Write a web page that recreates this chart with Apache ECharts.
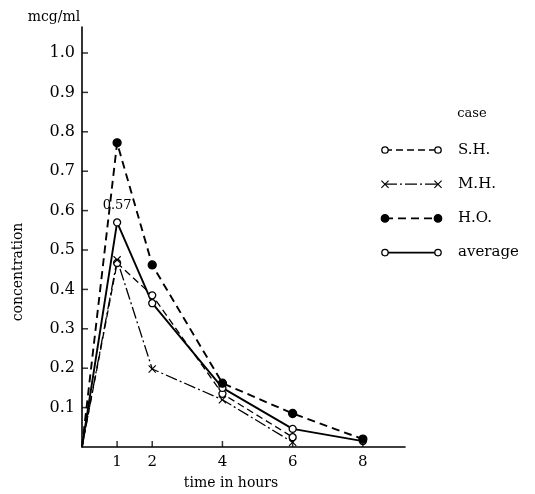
<!DOCTYPE html>
<html>
<head>
<meta charset="utf-8">
<script src="https://cdn.jsdelivr.net/npm/echarts@6/dist/echarts.min.js"></script>
<style>html,body{margin:0;padding:0;background:#fff;}#chart{width:535px;height:494px;}</style>
</head>
<body>
<div id="chart"></div>
<script>
// ---- data ----
const hours = [0, 1, 2, 4, 6, 8];
const seriesNames = ['S.H.', 'M.H.', 'H.O.', 'average'];
const shValues = [0, 0.467, 0.385, 0.135, 0.025];
const mhValues = [0, 0.475, 0.198, 0.12, 0.012];
const hoValues = [0, 0.772, 0.462, 0.162, 0.085, 0.02];
const avgValues = [0, 0.57, 0.365, 0.15, 0.046, 0.015];
const xTickLabels = [1, 2, 4, 6, 8];
const yTickValues = [0.1, 0.2, 0.3, 0.4, 0.5, 0.6, 0.7, 0.8, 0.9, 1.0];
const peakLabel = '0.57';

const FONT = 'DejaVu Serif';
const X_PATH = 'path://M0,1L1,0L5,4L9,0L10,1L6,5L10,9L9,10L5,6L1,10L0,9L4,5Z';

function toData(vals) {
  return vals.map((v, i) => {
    const d = { value: [hours[i], v] };
    if (i === 0) d.symbol = 'none';
    return d;
  });
}

const styles = {
  'S.H.': { dash: [7, 4], width: 1.3, symbol: 'circle', size: 7, fill: '#fff' },
  'M.H.': { dash: [12, 3, 2, 3], width: 1.3, symbol: X_PATH, size: 8, fill: '#000' },
  'H.O.': { dash: [8, 5], width: 1.9, symbol: 'circle', size: 8, fill: '#000' },
  'average': { dash: 'solid', width: 1.9, symbol: 'circle', size: 7, fill: '#fff' }
};
const valuesByName = { 'S.H.': shValues, 'M.H.': mhValues, 'H.O.': hoValues, 'average': avgValues };

const lineSeries = seriesNames.map((name, k) => {
  const st = styles[name];
  const data = toData(valuesByName[name]);
  if (name === 'average') {
    data[1].label = { show: true, formatter: peakLabel, position: 'top', distance: 6,
      fontFamily: FONT, fontSize: 13, color: '#000' };
  }
  return {
    name: name, type: 'line', data: data, symbol: st.symbol, symbolSize: st.size,
    showAllSymbol: true, z: name === 'H.O.' ? 5 : 3,
    lineStyle: { color: '#000', width: st.width, type: st.dash },
    itemStyle: { color: st.fill, borderColor: '#000', borderWidth: st.symbol === X_PATH ? 0 : 1.3 },
    emphasis: { disabled: true }, animation: false
  };
});

// tick marks (inside) drawn at the tick values
const tickSeries = [
  { type: 'scatter', data: xTickLabels.map(v => [v, 0]), symbol: 'rect', symbolSize: [1.5, 6],
    symbolOffset: [0, -3], itemStyle: { color: '#000' }, silent: true, clip: false, animation: false, z: 6 },
  { type: 'scatter', data: yTickValues.map(v => [0, v]), symbol: 'rect', symbolSize: [6, 1.5],
    symbolOffset: [3, 0], itemStyle: { color: '#000' }, silent: true, clip: false, animation: false, z: 6 }
];

// legend drawn as graphic
const legendTop = 150, legendGap = 34.2;
const legendGraphics = [];
seriesNames.forEach((name, i) => {
  const st = styles[name];
  const y = legendTop + i * legendGap;
  legendGraphics.push({ type: 'line', shape: { x1: 385, y1: y, x2: 438, y2: y },
    style: { stroke: '#000', lineWidth: st.width, lineDash: st.dash === 'solid' ? null : st.dash } });
  [385, 438].forEach(x => {
    if (st.symbol === X_PATH) {
      legendGraphics.push({ type: 'polygon', x: x - 4, y: y - 4, scaleX: 0.8, scaleY: 0.8,
        shape: { points: [[0,1],[1,0],[5,4],[9,0],[10,1],[6,5],[10,9],[9,10],[5,6],[1,10],[0,9],[4,5]] },
        style: { fill: '#000' } });
    } else {
      legendGraphics.push({ type: 'circle', shape: { cx: x, cy: y, r: st.size / 2 - 0.3 },
        style: { fill: st.fill, stroke: '#000', lineWidth: 1.3 } });
    }
  });
  legendGraphics.push({ type: 'text', x: 458, y: y,
    style: { text: name, font: '15px "' + FONT + '"', fill: '#000', textVerticalAlign: 'middle', verticalAlign: 'middle' } });
});

const option = {
  backgroundColor: '#fff',
  animation: false,
  grid: { left: 82, right: 130, top: 27, bottom: 47, containLabel: false },
  xAxis: {
    type: 'value', min: 0, max: 9.2, interval: 1,
    axisLine: { show: true, onZero: false, lineStyle: { color: '#000', width: 1.6 } },
    axisTick: { show: false }, splitLine: { show: false },
    axisLabel: { margin: 8, fontFamily: FONT, fontSize: 15, color: '#000',
      showMaxLabel: false,
      formatter: v => xTickLabels.indexOf(Math.round(v * 1000) / 1000) >= 0 ? String(v) : '' }
  },
  yAxis: {
    type: 'value', min: 0, max: 1.066, interval: 0.1,
    axisLine: { show: true, onZero: false, lineStyle: { color: '#000', width: 1.6 } },
    axisTick: { show: false }, splitLine: { show: false },
    axisLabel: { margin: 7, fontFamily: FONT, fontSize: 16, color: '#000',
      showMaxLabel: false,
      formatter: v => {
        const r = Math.round(v * 10);
        return (Math.abs(v * 10 - r) < 1e-6 && r >= 1 && r <= 10) ? (r / 10).toFixed(1) : '';
      } }
  },
  graphic: [
    { type: 'text', x: 54, y: 17, style: { text: 'mcg/ml', font: '14px "' + FONT + '"', fill: '#000',
      textAlign: 'center', align: 'center', textVerticalAlign: 'middle', verticalAlign: 'middle' } },
    { type: 'text', x: 18, y: 272, rotation: Math.PI / 2, style: { text: 'concentration', font: '14px "' + FONT + '"',
      fill: '#000', textAlign: 'center', align: 'center', textVerticalAlign: 'middle', verticalAlign: 'middle' } },
    { type: 'text', x: 231, y: 483, style: { text: 'time in hours', font: '14px "' + FONT + '"', fill: '#000',
      textAlign: 'center', align: 'center', textVerticalAlign: 'middle', verticalAlign: 'middle' } },
    { type: 'text', x: 472, y: 114, style: { text: 'case', font: '13px "' + FONT + '"', fill: '#000',
      textAlign: 'center', align: 'center', textVerticalAlign: 'middle', verticalAlign: 'middle' } }
  ].concat(legendGraphics),
  series: lineSeries.concat(tickSeries)
};

const chart = echarts.init(document.getElementById('chart'), null, { renderer: 'canvas' });
chart.setOption(option);
</script>
</body>
</html>
